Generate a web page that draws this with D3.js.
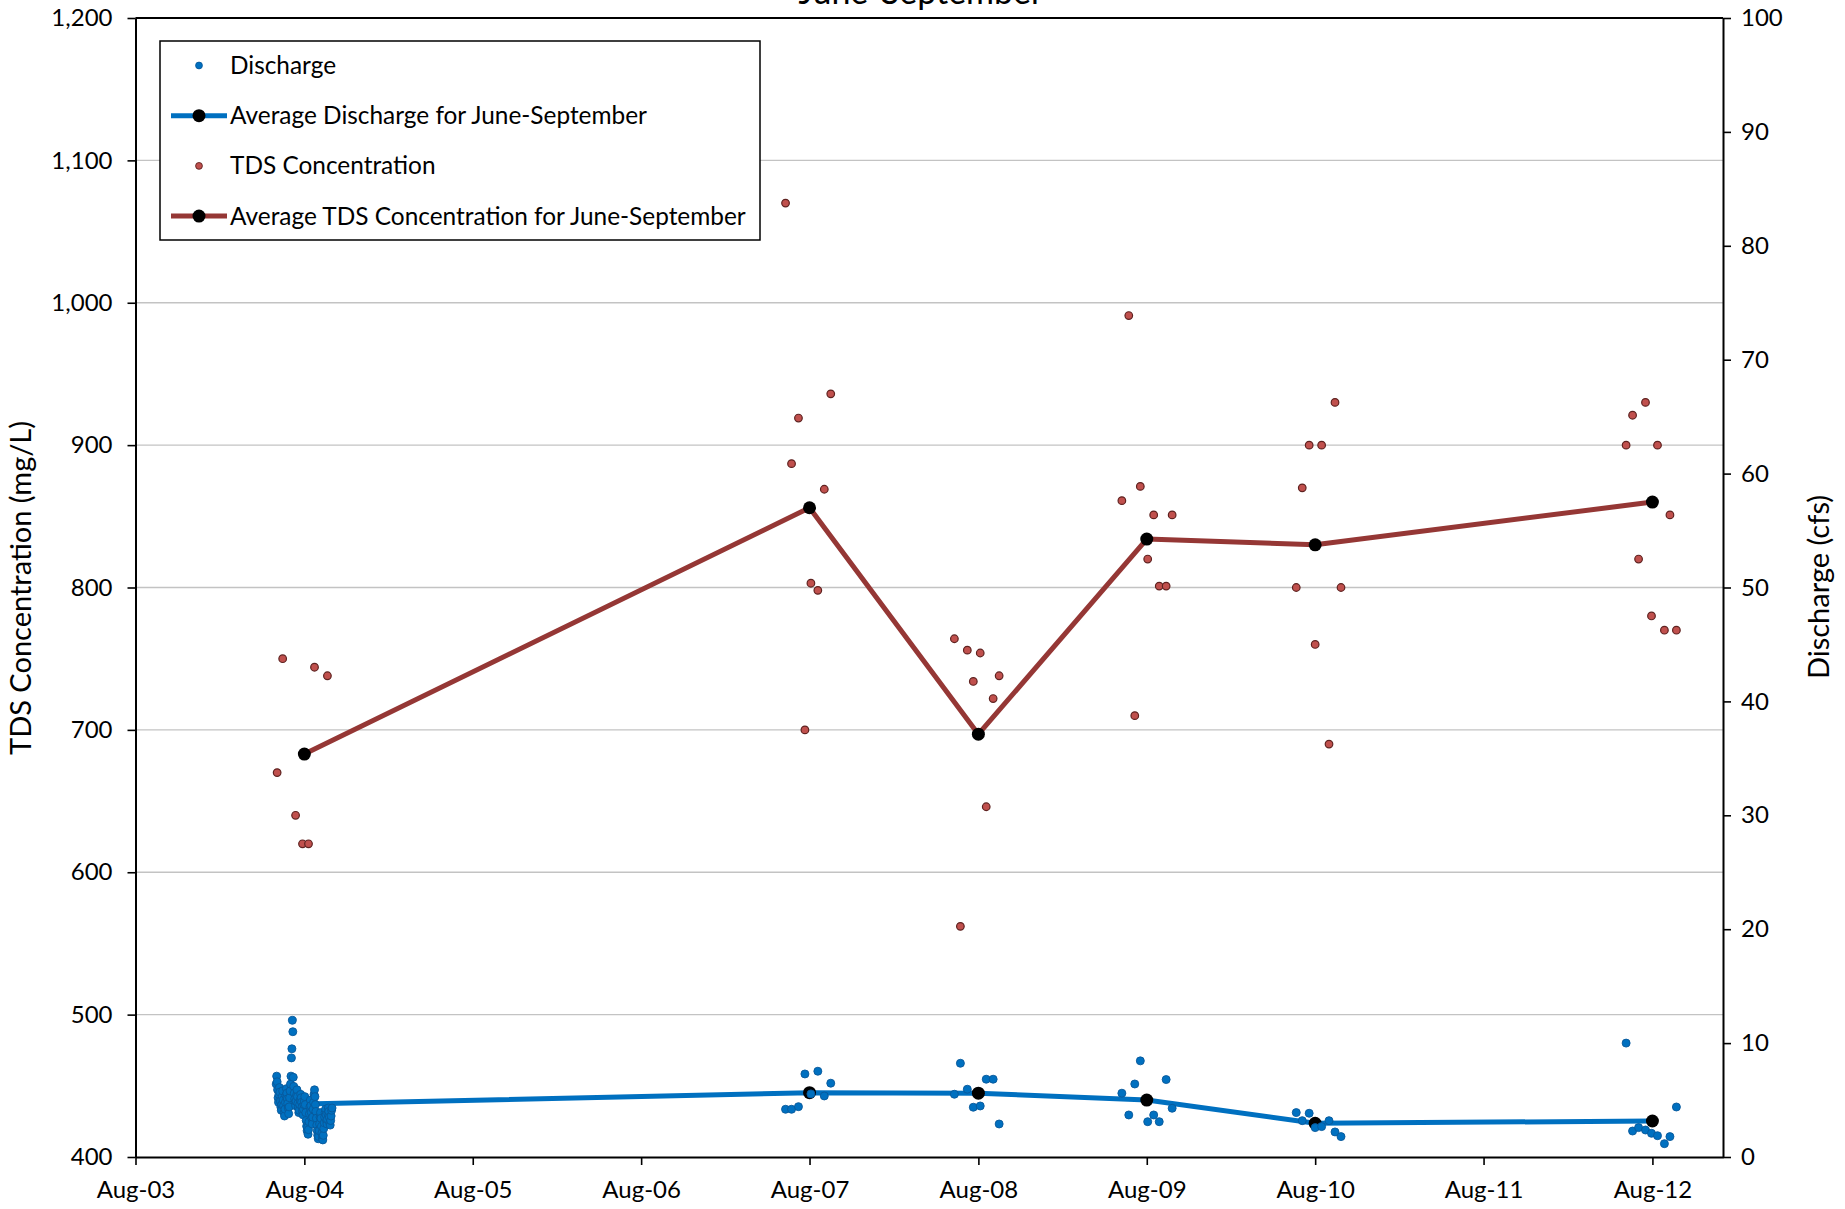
<!DOCTYPE html>
<html>
<head>
<meta charset="utf-8">
<script src="https://cdn.jsdelivr.net/npm/d3@7"></script>
<style>
  body { margin: 0; background: #fff; }
  svg { display: block; }
  text { font-family: Lato, "Open Sans", sans-serif; fill: #000; }
</style>
</head>
<body>
<svg id="chart" width="1845" height="1209"></svg>
<script>
// ---- Data ---------------------------------------------------------------

// TDS grab samples, summer 2004 (mg/L)
const tds2004Dates  = ["2004-06-03","2004-06-15","2004-07-13","2004-07-28","2004-08-10","2004-08-23","2004-09-20"];
const tds2004Values = [670, 750, 640, 620, 620, 744, 738];

// Daily mean discharge, 1 June - 30 September 2004 (cfs)
const discharge2004Start = "2004-06-01";
const discharge2004Values = [
  // June
  6.4, 7.1, 6.6, 5.9, 5.2, 4.8, 5.5, 6.1, 5.7, 4.9,
  4.4, 4.1, 4.6, 5.3, 5.8, 5.0, 4.5, 3.9, 3.6, 4.2,
  4.8, 5.4, 6.0, 5.6, 5.1, 4.7, 4.3, 3.8, 4.4, 5.2,
  // July
  5.8, 6.4, 7.1, 8.7, 9.5, 12.0, 11.0, 7.0, 6.2, 5.6,
  5.1, 4.8, 4.5, 4.9, 5.4, 5.9, 5.3, 4.7, 4.3, 3.9,
  4.1, 4.6, 5.0, 5.5, 5.2, 4.8, 4.4, 4.0, 3.7, 4.2, 4.6,
  // August
  4.9, 5.3, 4.6, 3.9, 3.2, 2.7, 2.3, 2.6, 2.0, 2.4,
  3.1, 3.8, 4.4, 5.0, 4.5, 3.9, 3.4, 2.9, 3.5, 4.2,
  4.8, 5.5, 5.9, 5.3, 4.6, 4.0, 3.4, 2.8, 2.3, 1.9, 1.6,
  // September
  1.8, 2.3, 2.9, 3.5, 3.9, 3.4, 2.7, 2.1, 1.7, 1.5,
  1.9, 2.5, 3.0, 3.5, 3.9, 4.2, 3.7, 3.2, 2.9, 3.3,
  3.8, 4.3, 4.0, 3.5, 3.0, 2.8, 3.2, 3.6, 4.1, 4.3
];

// Paired grab samples 2007-2012: date, TDS (mg/L), discharge (cfs)
const sampleDates = [
  "2007-06-10","2007-06-23","2007-07-08","2007-07-22","2007-08-04","2007-08-19","2007-09-02","2007-09-16",
  "2008-06-10","2008-06-23","2008-07-08","2008-07-21","2008-08-05","2008-08-18","2008-09-02","2008-09-15",
  "2009-06-08","2009-06-23","2009-07-06","2009-07-18","2009-08-03","2009-08-16","2009-08-28","2009-09-12","2009-09-25",
  "2010-06-21","2010-07-04","2010-07-19","2010-08-01","2010-08-15","2010-08-31","2010-09-13","2010-09-26",
  "2012-06-05","2012-06-19","2012-07-02","2012-07-17","2012-07-30","2012-08-12","2012-08-27","2012-09-08","2012-09-22"
];
const sampleTDS = [
  1070, 887, 919, 700, 803, 798, 869, 936,
  764, 562, 756, 734, 754, 646, 722, 738,
  861, 991, 710, 871, 820, 851, 801, 801, 851,
  800, 870, 900, 760, 900, 690, 930, 800,
  900, 921, 820, 930, 780, 900, 770, 851, 770
];
const sampleDischarge = [
  4.19, 4.19, 4.42, 7.29, 5.54, 7.53, 5.36, 6.48,
  5.51, 8.23, 5.95, 4.37, 4.48, 6.83, 6.83, 2.90,
  5.60, 3.69, 6.41, 8.44, 3.10, 3.69, 3.10, 6.80, 4.28,
  3.90, 3.19, 3.84, 2.58, 2.67, 3.19, 2.20, 1.79,
  10.0, 2.28, 2.58, 2.37, 2.08, 1.87, 1.17, 1.79, 4.39
];

// June-September averages
const avgDates     = ["2004-08-01","2007-08-01","2008-08-01","2009-08-01","2010-08-01","2012-08-01"];
const avgTDS       = [683, 856, 697, 834, 830, 860];
const avgDischarge = [4.65, 5.65, 5.6, 5.0, 2.96, 3.16];

// Axis ticks
const tdsTicks       = [400, 500, 600, 700, 800, 900, 1000, 1100, 1200];
const dischargeTicks = [0, 10, 20, 30, 40, 50, 60, 70, 80, 90, 100];
const dateTicks      = ["2003-08-01","2004-08-01","2005-08-01","2006-08-01","2007-08-01",
                        "2008-08-01","2009-08-01","2010-08-01","2011-08-01","2012-08-01"];

// ---- Layout & scales ----------------------------------------------------

const parse = d3.utcParse("%Y-%m-%d");
const plot = { left: 135.5, right: 1723, top: 18, bottom: 1157 };

const x = d3.scaleUtc()
  .domain([parse("2003-08-01"), parse("2013-01-01")])
  .range([plot.left, plot.right]);
const yTDS = d3.scaleLinear().domain([400, 1200]).range([plot.bottom, plot.top]);
const yQ   = d3.scaleLinear().domain([0, 100]).range([plot.bottom, plot.top]);

const BLUE = "#0070C0", BLUE_EDGE = "#08589a";
const RED = "#C0504D", RED_EDGE = "#5e2220";
const RED_LINE = "#953735";

const svg = d3.select("#chart");

// Horizontal gridlines on the TDS axis
svg.append("g")
  .selectAll("line")
  .data(tdsTicks.slice(1))
  .join("line")
  .attr("x1", plot.left).attr("x2", plot.right)
  .attr("y1", d => yTDS(d)).attr("y2", d => yTDS(d))
  .attr("stroke", "#c3c3c3").attr("stroke-width", 1.4);

// Top frame line
svg.append("line")
  .attr("x1", plot.left).attr("x2", plot.right)
  .attr("y1", plot.top).attr("y2", plot.top)
  .attr("stroke", "#000").attr("stroke-width", 2);

// Axes
function styleAxis(g) {
  g.selectAll("path.domain").attr("stroke", "#000").attr("stroke-width", 2);
  g.selectAll(".tick line").attr("stroke", "#000").attr("stroke-width", 1.6);
  g.selectAll(".tick text").attr("font-size", 24).attr("font-family", "Lato, 'Open Sans', sans-serif").attr("fill", "#000");
}

svg.append("g")
  .attr("transform", `translate(${plot.left},0)`)
  .call(d3.axisLeft(yTDS).tickValues(tdsTicks).tickFormat(d3.format(",")).tickSize(8).tickSizeOuter(0).tickPadding(15))
  .call(styleAxis);

svg.append("g")
  .attr("transform", `translate(${plot.right},0)`)
  .call(d3.axisRight(yQ).tickValues(dischargeTicks).tickSize(8).tickSizeOuter(0).tickPadding(10))
  .call(styleAxis);

svg.append("g")
  .attr("transform", `translate(0,${plot.bottom})`)
  .call(d3.axisBottom(x).tickValues(dateTicks.map(parse)).tickFormat(d3.utcFormat("%b-%y")).tickSize(8).tickSizeOuter(0).tickPadding(16))
  .call(styleAxis);

// Axis titles
svg.append("text")
  .attr("transform", `translate(31,588) rotate(-90)`)
  .attr("text-anchor", "middle").attr("font-size", 29)
  .text("TDS Concentration (mg/L)");

svg.append("text")
  .attr("transform", `translate(1829,587) rotate(-90)`)
  .attr("text-anchor", "middle").attr("font-size", 29)
  .text("Discharge (cfs)");

// Chart title (second line, sits at the top edge)
svg.append("text")
  .attr("x", 921).attr("y", 4)
  .attr("text-anchor", "middle").attr("font-size", 34)
  .text("June-September");

// ---- Average lines ------------------------------------------------------

const avgRows = avgDates.map((d, i) => ({ date: parse(d), tds: avgTDS[i], q: avgDischarge[i] }));

svg.append("path")
  .datum(avgRows)
  .attr("fill", "none").attr("stroke", RED_LINE).attr("stroke-width", 5)
  .attr("stroke-linejoin", "round")
  .attr("d", d3.line().x(d => x(d.date)).y(d => yTDS(d.tds)));

svg.append("g").selectAll("circle")
  .data(avgRows).join("circle")
  .attr("cx", d => x(d.date)).attr("cy", d => yTDS(d.tds))
  .attr("r", 6.5).attr("fill", "#000");

svg.append("path")
  .datum(avgRows)
  .attr("fill", "none").attr("stroke", BLUE).attr("stroke-width", 5)
  .attr("stroke-linejoin", "round")
  .attr("d", d3.line().x(d => x(d.date)).y(d => yQ(d.q)));

svg.append("g").selectAll("circle")
  .data(avgRows).join("circle")
  .attr("cx", d => x(d.date)).attr("cy", d => yQ(d.q))
  .attr("r", 6.5).attr("fill", "#000");

// ---- Scatter points -----------------------------------------------------

const start2004 = parse(discharge2004Start);
const dischargePoints = discharge2004Values.map((q, i) => ({ date: d3.utcDay.offset(start2004, i), q }))
  .concat(sampleDates.map((d, i) => ({ date: parse(d), q: sampleDischarge[i] })));

const tdsPoints = tds2004Dates.map((d, i) => ({ date: parse(d), v: tds2004Values[i] }))
  .concat(sampleDates.map((d, i) => ({ date: parse(d), v: sampleTDS[i] })));

svg.append("g").selectAll("circle")
  .data(dischargePoints).join("circle")
  .attr("cx", d => x(d.date)).attr("cy", d => yQ(d.q))
  .attr("r", 4.0).attr("fill", BLUE).attr("stroke", BLUE_EDGE).attr("stroke-width", 0.9);

svg.append("g").selectAll("circle")
  .data(tdsPoints).join("circle")
  .attr("cx", d => x(d.date)).attr("cy", d => yTDS(d.v))
  .attr("r", 3.8).attr("fill", RED).attr("stroke", RED_EDGE).attr("stroke-width", 1.2);

// ---- Legend -------------------------------------------------------------

const legendItems = [
  { label: "Discharge", type: "point", color: BLUE, edge: BLUE_EDGE },
  { label: "Average Discharge for June-September", type: "line", color: BLUE },
  { label: "TDS Concentration", type: "point", color: RED, edge: RED_EDGE },
  { label: "Average TDS Concentration for June-September", type: "line", color: RED_LINE }
];

const legend = svg.append("g");
legend.append("rect")
  .attr("x", 160).attr("y", 41).attr("width", 600).attr("height", 199)
  .attr("fill", "#fff").attr("stroke", "#000").attr("stroke-width", 1.5);

const rows = legend.selectAll("g.item")
  .data(legendItems).join("g")
  .attr("class", "item")
  .attr("transform", (d, i) => `translate(0,${65.5 + i * 50.2})`);

rows.filter(d => d.type === "line").append("line")
  .attr("x1", 171).attr("x2", 227).attr("y1", 0).attr("y2", 0)
  .attr("stroke", d => d.color).attr("stroke-width", 5);
rows.filter(d => d.type === "line").append("circle")
  .attr("cx", 199).attr("cy", 0).attr("r", 6.5).attr("fill", "#000");
rows.filter(d => d.type === "point").append("circle")
  .attr("cx", 199).attr("cy", 0).attr("r", 3.4)
  .attr("fill", d => d.color).attr("stroke", d => d.edge).attr("stroke-width", 0.9);

rows.append("text")
  .attr("x", 230).attr("y", 0).attr("dy", "0.35em")
  .attr("font-size", 24.4)
  .text(d => d.label);
</script>
</body>
</html>
